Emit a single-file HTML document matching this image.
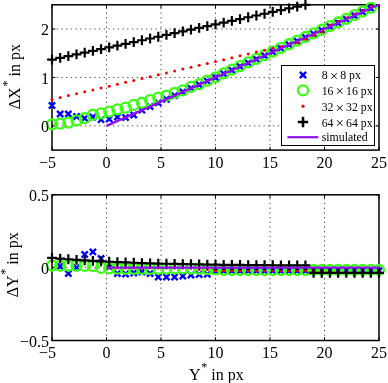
<!DOCTYPE html>
<html><head><meta charset="utf-8"><style>
html,body{margin:0;padding:0;background:#fff;width:388px;height:383px;overflow:hidden}
svg{display:block;will-change:transform}
</style></head><body>
<svg width="388" height="383" viewBox="0 0 388 383">
<rect width="388" height="383" fill="#fff"/>
<path d="M106.5 150.1V4.8M161 150.1V4.8M215.5 150.1V4.8M270 150.1V4.8M324.5 150.1V4.8M52 125.88H379M52 77.45H379M52 29.02H379" stroke="#000" stroke-width="1" stroke-dasharray="1.3 3.4" fill="none" opacity="0.7"/>
<path d="M52 150.1v-3.3M52 4.8v3.3M106.5 150.1v-3.3M106.5 4.8v3.3M161 150.1v-3.3M161 4.8v3.3M215.5 150.1v-3.3M215.5 4.8v3.3M270 150.1v-3.3M270 4.8v3.3M324.5 150.1v-3.3M324.5 4.8v3.3M379 150.1v-3.3M379 4.8v3.3M52 125.88h3.3M379 125.88h-3.3M52 77.45h3.3M379 77.45h-3.3M52 29.02h3.3M379 29.02h-3.3" stroke="#000" stroke-width="1" fill="none"/>
<rect x="52" y="4.8" width="327" height="145.3" fill="none" stroke="#000" stroke-width="1.5"/>
<path d="M48.9 102.44L55.1 108.64M48.9 108.64L55.1 102.44M57.07 110.87L63.27 117.07M57.07 117.07L63.27 110.87M65.25 110.87L71.45 117.07M65.25 117.07L71.45 110.87M73.43 113.44L79.62 119.64M73.43 119.64L79.62 113.44M81.6 115.23L87.8 121.43M81.6 121.43L87.8 115.23M89.78 113.97L95.97 120.17M89.78 120.17L95.97 113.97M97.95 116.54L104.15 122.74M97.95 122.74L104.15 116.54M106.12 115.95L112.32 122.15M106.12 122.15L112.32 115.95M114.3 113.97L120.5 120.17M114.3 120.17L120.5 113.97M122.48 114.45L128.68 120.65M122.48 120.65L128.68 114.45M130.65 111.84L136.85 118.04M130.65 118.04L136.85 111.84M138.83 107.04L145.03 113.24M138.83 113.24L145.03 107.04M147 103.41L153.2 109.61M147 109.61L153.2 103.41M155.18 99.78L161.38 105.98M155.18 105.98L161.38 99.78M163.35 96.15L169.55 102.34M163.35 102.34L169.55 96.15M171.53 92.51L177.72 98.71M171.53 98.71L177.72 92.51M179.7 88.88L185.9 95.08M179.7 95.08L185.9 88.88M187.88 85.25L194.07 91.45M187.88 91.45L194.07 85.25M196.05 81.61L202.25 87.81M196.05 87.81L202.25 81.61M204.22 77.98L210.42 84.18M204.22 84.18L210.42 77.98M212.4 74.35L218.6 80.55M212.4 80.55L218.6 74.35M220.58 70.72L226.78 76.92M220.58 76.92L226.78 70.72M228.75 67.08L234.95 73.28M228.75 73.28L234.95 67.08M236.93 63.45L243.12 69.65M236.93 69.65L243.12 63.45M245.1 59.82L251.3 66.02M245.1 66.02L251.3 59.82M253.28 56.19L259.48 62.39M253.28 62.39L259.48 56.19M261.45 52.55L267.65 58.76M261.45 58.76L267.65 52.55M269.62 48.92L275.83 55.12M269.62 55.12L275.83 48.92M277.8 45.29L284 51.49M277.8 51.49L284 45.29M285.97 41.66L292.18 47.86M285.97 47.86L292.18 41.66M294.15 38.03L300.35 44.23M294.15 44.23L300.35 38.03M302.32 34.39L308.53 40.59M302.32 40.59L308.53 34.39M310.5 30.76L316.7 36.96M310.5 36.96L316.7 30.76M318.67 27.13L324.88 33.33M318.67 33.33L324.88 27.13M326.85 23.49L333.05 29.7M326.85 29.7L333.05 23.49M335.02 19.86L341.23 26.06M335.02 26.06L341.23 19.86M343.2 16.23L349.4 22.43M343.2 22.43L349.4 16.23M351.38 12.6L357.58 18.8M351.38 18.8L357.58 12.6M359.55 8.96L365.75 15.16M359.55 15.16L365.75 8.96M367.72 5.33L373.93 11.53M367.72 11.53L373.93 5.33" stroke="#0000ff" stroke-width="2.4" fill="none"/>
<g stroke="#3cff14" stroke-width="2.3" fill="none"><circle cx="52" cy="124.33" r="5"/><circle cx="60.17" cy="123.66" r="5"/><circle cx="68.35" cy="122.64" r="5"/><circle cx="76.53" cy="120.46" r="5"/><circle cx="84.7" cy="118.13" r="5"/><circle cx="92.88" cy="114.74" r="5"/><circle cx="101.05" cy="113.34" r="5"/><circle cx="109.22" cy="111.55" r="5"/><circle cx="117.4" cy="109.37" r="5"/><circle cx="125.58" cy="107.72" r="5"/><circle cx="133.75" cy="104.96" r="5"/><circle cx="141.93" cy="102.73" r="5"/><circle cx="150.1" cy="100.17" r="5"/><circle cx="158.28" cy="97.6" r="5"/><circle cx="166.45" cy="95.61" r="5"/><circle cx="174.62" cy="93" r="5"/><circle cx="182.8" cy="90.38" r="5"/><circle cx="190.97" cy="86.85" r="5"/><circle cx="199.15" cy="84.23" r="5"/><circle cx="207.32" cy="80.6" r="5"/><circle cx="215.5" cy="77.45" r="5"/><circle cx="223.68" cy="73.33" r="5"/><circle cx="231.85" cy="69.7" r="5"/><circle cx="240.03" cy="66.07" r="5"/><circle cx="248.2" cy="62.44" r="5"/><circle cx="256.38" cy="58.8" r="5"/><circle cx="264.55" cy="55.17" r="5"/><circle cx="272.73" cy="51.54" r="5"/><circle cx="280.9" cy="47.91" r="5"/><circle cx="289.07" cy="44.27" r="5"/><circle cx="297.25" cy="40.64" r="5"/><circle cx="305.43" cy="37.01" r="5"/><circle cx="313.6" cy="33.38" r="5"/><circle cx="321.77" cy="29.74" r="5"/><circle cx="329.95" cy="26.11" r="5"/><circle cx="338.12" cy="22.48" r="5"/><circle cx="346.3" cy="18.85" r="5"/><circle cx="354.48" cy="15.21" r="5"/><circle cx="362.65" cy="11.58" r="5"/><circle cx="370.82" cy="7.95" r="5"/></g>
<g fill="#ff0000"><circle cx="52" cy="99.39" r="1.5"/><circle cx="60.17" cy="97.5" r="1.5"/><circle cx="68.35" cy="95.61" r="1.5"/><circle cx="76.53" cy="93.71" r="1.5"/><circle cx="84.7" cy="91.82" r="1.5"/><circle cx="92.88" cy="89.93" r="1.5"/><circle cx="101.05" cy="88.04" r="1.5"/><circle cx="109.22" cy="86.14" r="1.5"/><circle cx="117.4" cy="84.25" r="1.5"/><circle cx="125.58" cy="82.36" r="1.5"/><circle cx="133.75" cy="80.46" r="1.5"/><circle cx="141.93" cy="78.57" r="1.5"/><circle cx="150.1" cy="76.68" r="1.5"/><circle cx="158.28" cy="74.79" r="1.5"/><circle cx="166.45" cy="72.89" r="1.5"/><circle cx="174.62" cy="71" r="1.5"/><circle cx="182.8" cy="69.11" r="1.5"/><circle cx="190.97" cy="67.22" r="1.5"/><circle cx="199.15" cy="65.32" r="1.5"/><circle cx="207.32" cy="63.43" r="1.5"/><circle cx="215.5" cy="61.54" r="1.5"/><circle cx="223.68" cy="59.65" r="1.5"/><circle cx="231.85" cy="57.75" r="1.5"/><circle cx="240.03" cy="55.86" r="1.5"/><circle cx="248.2" cy="53.97" r="1.5"/><circle cx="256.38" cy="52.08" r="1.5"/><circle cx="264.55" cy="50.18" r="1.5"/><circle cx="272.73" cy="48.29" r="1.5"/><circle cx="280.9" cy="46.4" r="1.5"/><circle cx="289.07" cy="44.51" r="1.5"/><circle cx="297.25" cy="42.82" r="1.5"/><circle cx="305.43" cy="39.19" r="1.5"/><circle cx="313.6" cy="35.56" r="1.5"/><circle cx="321.77" cy="31.92" r="1.5"/><circle cx="329.95" cy="24.9" r="1.5"/><circle cx="338.12" cy="21.27" r="1.5"/><circle cx="346.3" cy="17.63" r="1.5"/><circle cx="354.48" cy="14" r="1.5"/><circle cx="362.65" cy="10.37" r="1.5"/><circle cx="370.82" cy="6.74" r="1.5"/></g>
<path d="M47.1 59.72H56.9M52 54.82V64.62M55.27 57.95H65.08M60.17 53.05V62.85M63.45 56.19H73.25M68.35 51.29V61.09M71.62 54.42H81.43M76.53 49.52V59.32M79.8 52.65H89.6M84.7 47.75V57.55M87.97 50.88H97.78M92.88 45.98V55.78M96.15 49.11H105.95M101.05 44.21V54.01M104.32 47.34H114.12M109.22 42.44V52.24M112.5 45.57H122.3M117.4 40.67V50.47M120.67 43.8H130.47M125.58 38.9V48.7M128.85 42.03H138.65M133.75 37.13V46.93M137.03 40.26H146.83M141.93 35.36V45.16M145.2 38.5H155M150.1 33.6V43.4M153.38 36.73H163.18M158.28 31.83V41.63M161.55 34.96H171.35M166.45 30.06V39.86M169.72 33.19H179.53M174.62 28.29V38.09M177.9 31.42H187.7M182.8 26.52V36.32M186.07 29.65H195.88M190.97 24.75V34.55M194.25 27.88H204.05M199.15 22.98V32.78M202.42 26.11H212.22M207.32 21.21V31.01M210.6 24.34H220.4M215.5 19.44V29.24M218.78 22.57H228.58M223.68 17.67V27.47M226.95 20.8H236.75M231.85 15.9V25.7M235.12 19.04H244.93M240.03 14.14V23.94M243.3 17.27H253.1M248.2 12.37V22.17M251.47 15.5H261.27M256.38 10.6V20.4M259.65 13.73H269.45M264.55 8.83V18.63M267.83 11.96H277.62M272.73 7.06V16.86M276 10.19H285.8M280.9 5.29V15.09M284.18 8.42H293.97M289.07 3.52V13.32M292.35 6.65H302.15M297.25 1.75V11.55M300.53 4.88H310.32M305.43 -0.02V9.78" stroke="#000000" stroke-width="2.2" fill="none"/>
<path d="M106.5 125.88L379 4.8" stroke="#9010f0" stroke-width="2.2" fill="none"/>
<path d="M106.5 340.5V194.8M161 340.5V194.8M215.5 340.5V194.8M270 340.5V194.8M324.5 340.5V194.8M52 267.65H379" stroke="#000" stroke-width="1" stroke-dasharray="1.3 3.4" fill="none" opacity="0.7"/>
<path d="M52 340.5v-3.3M52 194.8v3.3M106.5 340.5v-3.3M106.5 194.8v3.3M161 340.5v-3.3M161 194.8v3.3M215.5 340.5v-3.3M215.5 194.8v3.3M270 340.5v-3.3M270 194.8v3.3M324.5 340.5v-3.3M324.5 194.8v3.3M379 340.5v-3.3M379 194.8v3.3M52 340.5h3.3M379 340.5h-3.3M52 267.65h3.3M379 267.65h-3.3M52 194.8h3.3M379 194.8h-3.3" stroke="#000" stroke-width="1" fill="none"/>
<rect x="52" y="194.8" width="327" height="145.7" fill="none" stroke="#000" stroke-width="1.5"/>
<path d="M57.07 263.38L63.27 269.58M57.07 269.58L63.27 263.38M65.25 270.38L71.45 276.58M65.25 276.58L71.45 270.38M73.43 264.55L79.62 270.75M73.43 270.75L79.62 264.55M81.6 251.44L87.8 257.64M81.6 257.64L87.8 251.44M89.78 248.81L95.97 255.01M89.78 255.01L95.97 248.81M97.95 255.37L104.15 261.57M97.95 261.57L104.15 255.37M106.12 263.82L112.32 270.02M106.12 270.02L112.32 263.82M114.3 270.52L120.5 276.72M114.3 276.72L120.5 270.52M122.48 270.96L128.68 277.16M122.48 277.16L128.68 270.96M130.65 269.94L136.85 276.14M130.65 276.14L136.85 269.94M138.83 268.92L145.03 275.12M138.83 275.12L145.03 268.92M147 270.38L153.2 276.58M147 276.58L153.2 270.38M155.18 274.02L161.38 280.22M155.18 280.22L161.38 274.02M163.35 274.02L169.55 280.22M163.35 280.22L169.55 274.02M171.53 274.02L177.72 280.22M171.53 280.22L177.72 274.02M179.7 273L185.9 279.2M179.7 279.2L185.9 273M187.88 271.83L194.07 278.04M187.88 278.04L194.07 271.83M196.05 271.4L202.25 277.6M196.05 277.6L202.25 271.4M204.22 271.25L210.42 277.45M204.22 277.45L210.42 271.25M212.4 268.19L218.6 274.39M212.4 274.39L218.6 268.19M220.58 267.61L226.78 273.81M220.58 273.81L226.78 267.61M228.75 267.61L234.95 273.81M228.75 273.81L234.95 267.61M236.93 267.61L243.12 273.81M236.93 273.81L243.12 267.61M245.1 267.61L251.3 273.81M245.1 273.81L251.3 267.61M253.28 267.61L259.48 273.81M253.28 273.81L259.48 267.61M261.45 267.61L267.65 273.81M261.45 273.81L267.65 267.61M269.62 267.61L275.83 273.81M269.62 273.81L275.83 267.61M277.8 267.61L284 273.81M277.8 273.81L284 267.61M285.97 267.61L292.18 273.81M285.97 273.81L292.18 267.61M294.15 267.61L300.35 273.81M294.15 273.81L300.35 267.61M302.32 267.61L308.53 273.81M302.32 273.81L308.53 267.61M310.5 267.61L316.7 273.81M310.5 273.81L316.7 267.61M318.67 267.61L324.88 273.81M318.67 273.81L324.88 267.61M326.85 267.61L333.05 273.81M326.85 273.81L333.05 267.61M335.02 267.61L341.23 273.81M335.02 273.81L341.23 267.61M343.2 267.61L349.4 273.81M343.2 273.81L349.4 267.61M351.38 267.61L357.58 273.81M351.38 273.81L357.58 267.61M359.55 267.61L365.75 273.81M359.55 273.81L365.75 267.61M367.72 267.61L373.93 273.81M367.72 273.81L373.93 267.61M375.9 267.61L382.1 273.81M375.9 273.81L382.1 267.61" stroke="#0000ff" stroke-width="2.4" fill="none"/>
<g stroke="#3cff14" stroke-width="2.3" fill="none"><circle cx="52" cy="265.61" r="5"/><circle cx="60.17" cy="265.76" r="5"/><circle cx="68.35" cy="265.76" r="5"/><circle cx="76.53" cy="265.76" r="5"/><circle cx="84.7" cy="265.9" r="5"/><circle cx="92.88" cy="266.19" r="5"/><circle cx="101.05" cy="267.94" r="5"/><circle cx="109.22" cy="268.38" r="5"/><circle cx="117.4" cy="268.67" r="5"/><circle cx="125.58" cy="268.82" r="5"/><circle cx="133.75" cy="268.96" r="5"/><circle cx="141.93" cy="268.96" r="5"/><circle cx="150.1" cy="268.96" r="5"/><circle cx="158.28" cy="268.82" r="5"/><circle cx="166.45" cy="268.67" r="5"/><circle cx="174.62" cy="268.52" r="5"/><circle cx="182.8" cy="268.38" r="5"/><circle cx="190.97" cy="268.52" r="5"/><circle cx="199.15" cy="268.82" r="5"/><circle cx="207.32" cy="269.11" r="5"/><circle cx="215.5" cy="269.4" r="5"/><circle cx="223.68" cy="269.98" r="5"/><circle cx="231.85" cy="269.98" r="5"/><circle cx="240.03" cy="269.98" r="5"/><circle cx="248.2" cy="269.98" r="5"/><circle cx="256.38" cy="269.98" r="5"/><circle cx="264.55" cy="269.98" r="5"/><circle cx="272.73" cy="269.98" r="5"/><circle cx="280.9" cy="269.98" r="5"/><circle cx="289.07" cy="269.98" r="5"/><circle cx="297.25" cy="269.98" r="5"/><circle cx="305.43" cy="269.98" r="5"/><circle cx="313.6" cy="269.98" r="5"/><circle cx="321.77" cy="269.98" r="5"/><circle cx="329.95" cy="269.98" r="5"/><circle cx="338.12" cy="269.98" r="5"/><circle cx="346.3" cy="269.98" r="5"/><circle cx="354.48" cy="269.98" r="5"/><circle cx="362.65" cy="269.98" r="5"/><circle cx="370.82" cy="269.98" r="5"/><circle cx="379" cy="269.98" r="5"/></g>
<g fill="#ff0000"><circle cx="52" cy="258.47" r="1.5"/><circle cx="60.17" cy="259.19" r="1.5"/><circle cx="68.35" cy="259.84" r="1.5"/><circle cx="76.53" cy="260.44" r="1.5"/><circle cx="84.7" cy="260.98" r="1.5"/><circle cx="92.88" cy="261.47" r="1.5"/><circle cx="101.05" cy="261.92" r="1.5"/><circle cx="109.22" cy="267.94" r="1.5"/><circle cx="117.4" cy="267.94" r="1.5"/><circle cx="125.58" cy="267.94" r="1.5"/><circle cx="133.75" cy="267.94" r="1.5"/><circle cx="141.93" cy="267.94" r="1.5"/><circle cx="150.1" cy="267.94" r="1.5"/><circle cx="158.28" cy="267.94" r="1.5"/><circle cx="166.45" cy="267.94" r="1.5"/><circle cx="174.62" cy="267.94" r="1.5"/><circle cx="182.8" cy="267.94" r="1.5"/><circle cx="190.97" cy="267.94" r="1.5"/><circle cx="199.15" cy="269.4" r="1.5"/><circle cx="207.32" cy="269.4" r="1.5"/><circle cx="215.5" cy="270.71" r="1.5"/><circle cx="223.68" cy="270.71" r="1.5"/><circle cx="231.85" cy="270.71" r="1.5"/><circle cx="240.03" cy="270.71" r="1.5"/><circle cx="248.2" cy="270.71" r="1.5"/><circle cx="256.38" cy="270.71" r="1.5"/><circle cx="264.55" cy="270.71" r="1.5"/><circle cx="272.73" cy="270.71" r="1.5"/><circle cx="280.9" cy="270.71" r="1.5"/><circle cx="289.07" cy="270.71" r="1.5"/><circle cx="297.25" cy="270.71" r="1.5"/><circle cx="305.43" cy="270.71" r="1.5"/><circle cx="313.6" cy="270.71" r="1.5"/><circle cx="321.77" cy="270.71" r="1.5"/><circle cx="329.95" cy="270.71" r="1.5"/><circle cx="338.12" cy="270.71" r="1.5"/><circle cx="346.3" cy="270.71" r="1.5"/><circle cx="354.48" cy="270.71" r="1.5"/><circle cx="362.65" cy="270.71" r="1.5"/><circle cx="370.82" cy="270.71" r="1.5"/><circle cx="379" cy="270.71" r="1.5"/></g>
<path d="M47.1 257.89H56.9M52 252.99V262.79M55.27 258.61H65.08M60.17 253.71V263.51M63.45 259.26H73.25M68.35 254.36V264.16M71.62 259.85H81.43M76.53 254.95V264.75M79.8 260.39H89.6M84.7 255.49V265.29M87.97 260.89H97.78M92.88 255.99V265.79M96.15 261.34H105.95M101.05 256.44V266.24M104.32 261.74H114.12M109.22 256.84V266.64M112.5 262.12H122.3M117.4 257.22V267.02M120.67 262.46H130.47M125.58 257.56V267.36M128.85 262.76H138.65M133.75 257.86V267.66M137.03 263.04H146.83M141.93 258.14V267.94M145.2 263.3H155M150.1 258.4V268.2M153.38 263.53H163.18M158.28 258.63V268.43M161.55 263.74H171.35M166.45 258.84V268.64M169.72 263.94H179.53M174.62 259.04V268.84M177.9 264.11H187.7M182.8 259.21V269.01M186.07 264.27H195.88M190.97 259.37V269.17M194.25 264.42H204.05M199.15 259.52V269.32M202.42 264.55H212.22M207.32 259.65V269.45M210.6 264.67H220.4M215.5 259.77V269.57M218.78 264.78H228.58M223.68 259.88V269.68M226.95 264.88H236.75M231.85 259.98V269.78M235.12 264.97H244.93M240.03 260.07V269.87M243.3 265.06H253.1M248.2 260.16V269.96M251.47 265.13H261.27M256.38 260.23V270.03M259.65 265.2H269.45M264.55 260.3V270.1M267.83 265.26H277.62M272.73 260.36V270.16M276 265.32H285.8M280.9 260.42V270.22M284.18 265.37H293.97M289.07 260.47V270.27M292.35 265.42H302.15M297.25 260.52V270.32M300.53 265.46H310.32M305.43 260.56V270.36M308.7 272.9H318.5M313.6 268V277.8M316.88 272.9H326.67M321.77 268V277.8M325.05 272.9H334.85M329.95 268V277.8M333.23 272.9H343.02M338.12 268V277.8M341.4 272.9H351.2M346.3 268V277.8M349.58 272.9H359.38M354.48 268V277.8M357.75 272.9H367.55M362.65 268V277.8M365.93 272.9H375.72M370.82 268V277.8M374.1 272.9H383.9M379 268V277.8" stroke="#000000" stroke-width="2.2" fill="none"/>
<path d="M106.5 267.65L379 267.65" stroke="#9010f0" stroke-width="2.2" fill="none"/>
<g font-family="Liberation Serif, serif" font-size="16" fill="#000"><text x="47.5" y="168" text-anchor="middle">−5</text><text x="47.5" y="357.9" text-anchor="middle">−5</text><text x="106.5" y="168" text-anchor="middle">0</text><text x="106.5" y="357.9" text-anchor="middle">0</text><text x="161" y="168" text-anchor="middle">5</text><text x="161" y="357.9" text-anchor="middle">5</text><text x="215.5" y="168" text-anchor="middle">10</text><text x="215.5" y="357.9" text-anchor="middle">10</text><text x="270" y="168" text-anchor="middle">15</text><text x="270" y="357.9" text-anchor="middle">15</text><text x="324.5" y="168" text-anchor="middle">20</text><text x="324.5" y="357.9" text-anchor="middle">20</text><text x="379" y="168" text-anchor="middle">25</text><text x="379" y="357.9" text-anchor="middle">25</text><text x="49" y="131.98" text-anchor="end">0</text><text x="49" y="83.55" text-anchor="end">1</text><text x="49" y="35.12" text-anchor="end">2</text><text x="49" y="346.6" text-anchor="end">−0.5</text><text x="49" y="273.75" text-anchor="end">0</text><text x="49" y="200.9" text-anchor="end">0.5</text></g>
<g font-family="Liberation Serif, serif" font-size="16" fill="#000">
<text transform="translate(19.7 109.2) rotate(-90)">ΔX<tspan font-size="12" dx="0.8" dy="-8.6">*</tspan><tspan dy="8.6"> in px</tspan></text>
<text transform="translate(17.7 297.3) rotate(-90)">ΔY<tspan font-size="12" dx="0.8" dy="-8.6">*</tspan><tspan dy="8.6"> in px</tspan></text>
<text x="189" y="380">Y<tspan font-size="12" dx="0.8" dy="-8.6">*</tspan><tspan dy="8.6"> in px</tspan></text>
</g>
<rect x="281.5" y="65.5" width="93.0" height="80.0" fill="#fff" stroke="#000" stroke-width="1"/>
<path d="M299.9 71.9L306.1 78.1M299.9 78.1L306.1 71.9" stroke="#0000ff" stroke-width="2.5" fill="none"/>
<circle cx="303.0" cy="90.4" r="5" stroke="#3cff14" stroke-width="2.3" fill="none"/>
<circle cx="303.0" cy="106.2" r="1.6" fill="#ff0000"/>
<path d="M297.8 122H308.2M303 116.8V127.2" stroke="#000000" stroke-width="2.5" fill="none"/>
<path d="M287.5 137.2H318.3" stroke="#9010f0" stroke-width="2.2" fill="none"/>
<g font-family="Liberation Serif, serif" font-size="11.8" fill="#000">
<text x="321.7" y="79.0">8 <tspan font-size="15" dx="-0.9" dy="1.6">×</tspan><tspan dx="-0.9" dy="-1.6"> 8 px</tspan></text>
<text x="321.7" y="94.5">16 <tspan font-size="15" dx="-0.9" dy="1.6">×</tspan><tspan dx="-0.9" dy="-1.6"> 16 px</tspan></text>
<text x="321.7" y="110.9">32 <tspan font-size="15" dx="-0.9" dy="1.6">×</tspan><tspan dx="-0.9" dy="-1.6"> 32 px</tspan></text>
<text x="321.7" y="126.5">64 <tspan font-size="15" dx="-0.9" dy="1.6">×</tspan><tspan dx="-0.9" dy="-1.6"> 64 px</tspan></text>
<text x="321.7" y="140.8">simulated</text>
</g>
</svg>
</body></html>
